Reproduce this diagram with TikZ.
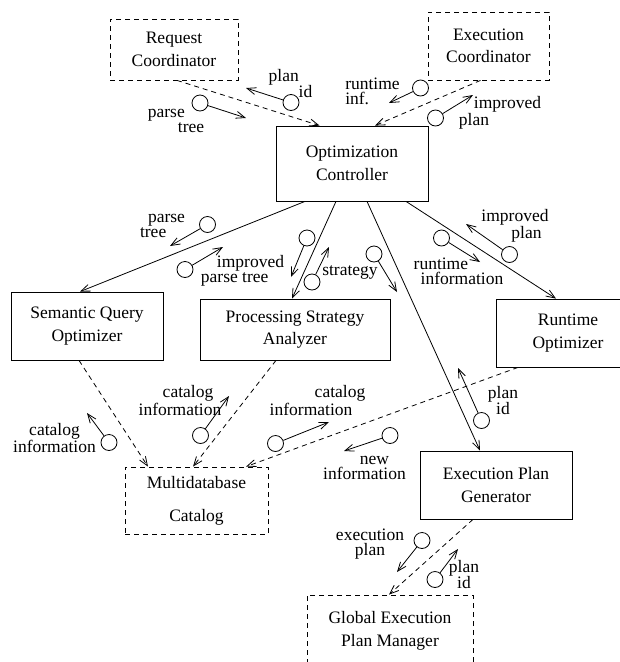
\documentclass[tikz,border=0pt]{standalone}
\usepackage{fontspec}
\setmainfont{Liberation Serif}
\usepackage{tikz}
\usetikzlibrary{arrows.meta}
\newcommand\boxfont{\fontsize{17.5}{22.5}\selectfont}
\newcommand\msgfont{\fontsize{17.5}{15}\selectfont}

\begin{document}
\begin{tikzpicture}[x=1pt, y=-1pt,
  module/.style={rectangle, draw, line width=0.8pt, inner sep=0pt, align=center, font=\boxfont},
  extmodule/.style={module, dash pattern=on 5pt off 4pt},
  msg/.style={circle, draw, line width=0.8pt, minimum size=16pt, inner sep=0pt},
  lbl/.style={inner sep=0pt, font=\msgfont},
  flow/.style={-{Straight Barb[length=9pt,width=7pt]}, line width=0.8pt},
  dflow/.style={flow, dash pattern=on 5pt off 4pt}]
  \useasboundingbox (0,0) rectangle (620,662);

  % modules
  \node (reqco) [extmodule, minimum width=128pt, minimum height=61pt] at (174,49.5) {Request\\Coordinator};
  \node (execo) [extmodule, minimum width=121pt, minimum height=68pt] at (488.5,46) {Execution\\Coordinator};
  \node (optctl) [module, minimum width=152pt, minimum height=75pt] at (352,163.5) {Optimization\\Controller};
  \node (semopt) [module, minimum width=152pt, minimum height=68pt] at (87,326) {Semantic Query\\Optimizer};
  \node (strat) [module, minimum width=190pt, minimum height=61pt] at (295,329.5) {Processing Strategy\\Analyzer};
  \node (rtopt) [module, minimum width=144pt, minimum height=68pt] at (568,333) {Runtime\\Optimizer};
  \node (mdbcat) [extmodule, minimum width=143pt, minimum height=67pt, font=\fontsize{17.5}{33}\selectfont] at (196.5,500.5) {Multidatabase\\Catalog};
  \node (epgen) [module, minimum width=152pt, minimum height=68pt] at (496,485) {Execution Plan\\Generator};
  \node (gepm) [extmodule, minimum width=166pt, minimum height=72pt] at (390,631) {Global Execution\\Plan Manager};

  % links between modules
  \draw[dflow] ([xshift=3pt]reqco.south) -- ([xshift=44pt]optctl.north west);
  \draw[dflow] ([xshift=-8pt]execo.south) -- ([xshift=23pt]optctl.north);
  \draw[flow] ([xshift=-47pt]optctl.south) -- ([xshift=-7pt]semopt.north);
  \draw[flow] ([xshift=-16pt]optctl.south) -- ([xshift=-3pt]strat.north);
  \draw[flow] ([xshift=15pt]optctl.south) -- ([xshift=-16pt]epgen.north);
  \draw[flow] ([xshift=54pt]optctl.south) -- ([xshift=-12pt]rtopt.north);
  \draw[dflow] ([xshift=-8pt]semopt.south) -- ([xshift=-48.5pt]mdbcat.north);
  \draw[dflow] ([xshift=-19pt]strat.south) -- ([xshift=-3.5pt]mdbcat.north);
  \draw[dflow] ([xshift=-50pt]rtopt.south) -- ([xshift=49.5pt]mdbcat.north);
  \draw[dflow] ([xshift=-23pt]epgen.south) -- ([xshift=-1pt]gepm.north);

  % messages
  \node (mParseA) [msg] at (200,103) {};
  \coordinate (tParseA) at (246,118);
  \draw[flow] (mParseA) -- (tParseA);
  \node (lParseA) [lbl, align=left] at (176,120.5) {parse\\\hspace*{30pt}tree};

  \node (mPlanA) [msg] at (291,102.5) {};
  \coordinate (tPlanA) at (246,88);
  \draw[flow] (mPlanA) -- (tPlanA);
  \node (lPlanA) [lbl, align=left] at (290.5,83.5) {plan\\\hspace*{30pt}id};

  \node (mRtInf) [msg] at (420.5,88) {};
  \coordinate (tRtInf) at (389,103);
  \draw[flow] (mRtInf) -- (tRtInf);
  \node (lRtInf) [lbl, align=left] at (372.5,91) {runtime\\inf.};

  \node (mImpA) [msg] at (435.5,118) {};
  \coordinate (tImpA) at (473,95);
  \draw[flow] (mImpA) -- (tImpA);
  \node (lImpA) [lbl, align=left] at (500,112.5) {\hspace*{15pt}improved\\plan};

  \node (mParseB) [msg] at (207.5,224.5) {};
  \coordinate (tParseB) at (170,246);
  \draw[flow] (mParseB) -- (tParseB);
  \node (lParseB) [lbl, align=left] at (162.5,226) {\hspace*{8pt}parse\\tree};

  \node (mImpTree) [msg] at (185,269.5) {};
  \coordinate (tImpTree) at (223,247);
  \draw[flow] (mImpTree) -- (tImpTree);
  \node (lImpTree) [lbl, align=left] at (242.5,271) {\hspace*{16pt}improved\\parse tree};

  \node (mStratIn) [msg] at (307,238) {};
  \coordinate (tStratIn) at (291,277);
  \draw[flow] (mStratIn) -- (tStratIn);

  \node (mStrat) [msg] at (312,282) {};
  \coordinate (tStrat) at (329,247);
  \draw[flow] (mStrat) -- (tStrat);
  \node (lStrat) [lbl] at (350,272) {strategy};

  \node (mExec) [msg] at (374,254) {};
  \coordinate (tExec) at (397,292);
  \draw[flow] (mExec) -- (tExec);

  \node (mRtInfo) [msg] at (441.5,238) {};
  \coordinate (tRtInfo) at (480,262);
  \draw[flow] (mRtInfo) -- (tRtInfo);
  \node (lRtInfo) [lbl, align=left] at (458.5,271) {runtime\\\hspace*{7pt}information};

  \node (mImpB) [msg] at (509.5,254.5) {};
  \coordinate (tImpB) at (466,224);
  \draw[flow] (mImpB) -- (tImpB);
  \node (lImpB) [lbl, align=left] at (515,226) {improved\\\hspace*{30pt}plan};

  \node (mCatA) [msg] at (109,442.5) {};
  \coordinate (tCatA) at (87,413);
  \draw[flow] (mCatA) -- (tCatA);
  \node (lCatA) [lbl, align=center] at (54.5,438) {catalog\\information};

  \node (mCatB) [msg] at (200.5,435.5) {};
  \coordinate (tCatB) at (229,396);
  \draw[flow] (mCatB) -- (tCatB);
  \node (lCatB) [lbl, align=center] at (180,400.5) {\hspace*{16pt}catalog\\information};

  \node (mCatC) [msg] at (275.5,443.5) {};
  \coordinate (tCatC) at (329,422);
  \draw[flow] (mCatC) -- (tCatC);
  \node (lCatC) [lbl, align=left] at (317.5,400.5) {\hspace*{45pt}catalog\\information};

  \node (mNewInf) [msg] at (390,435.5) {};
  \coordinate (tNewInf) at (344,451);
  \draw[flow] (mNewInf) -- (tNewInf);
  \node (lNewInf) [lbl, align=center] at (364.5,468) {\hspace*{20pt}new\\information};

  \node (mPlanB) [msg] at (481.5,420.5) {};
  \coordinate (tPlanB) at (458,368);
  \draw[flow] (mPlanB) -- (tPlanB);
  \node (lPlanB) [lbl, align=center] at (503,400.5) {plan\\id};

  \node (mExPlan) [msg] at (422,540.5) {};
  \coordinate (tExPlan) at (397,572);
  \draw[flow] (mExPlan) -- (tExPlan);
  \node (lExPlan) [lbl, align=center] at (370,544.5) {execution\\plan};

  \node (mPlanC) [msg] at (435,579.5) {};
  \coordinate (tPlanC) at (458,549);
  \draw[flow] (mPlanC) -- (tPlanC);
  \node (lPlanC) [lbl, align=center] at (464,574.5) {plan\\id};
\end{tikzpicture}
\end{document}
